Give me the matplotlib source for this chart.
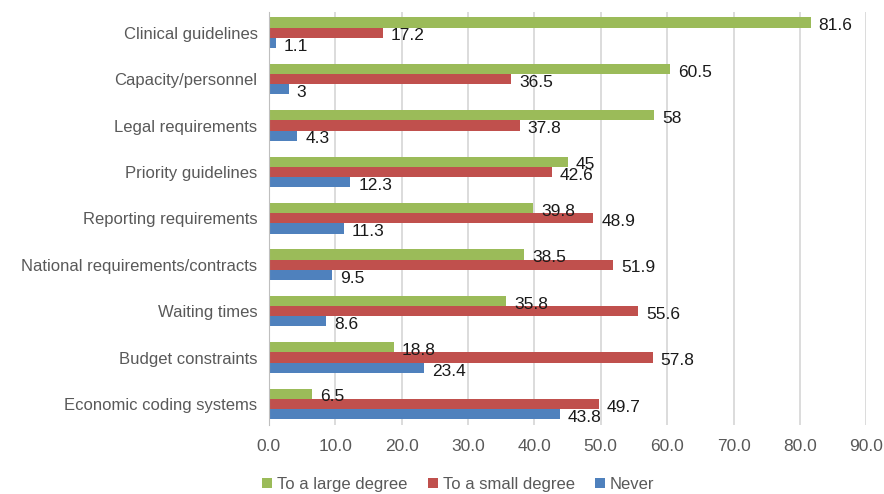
import matplotlib
matplotlib.use("Agg")
import matplotlib.pyplot as plt
import numpy as np

plt.rcParams["font.family"] = ["Liberation Sans", "DejaVu Sans"]

categories = [
    "Clinical guidelines",
    "Capacity/personnel",
    "Legal requirements",
    "Priority guidelines",
    "Reporting requirements",
    "National requirements/contracts",
    "Waiting times",
    "Budget constraints",
    "Economic coding systems",
]
large_degree = [81.6, 60.5, 58, 45, 39.8, 38.5, 35.8, 18.8, 6.5]
small_degree = [17.2, 36.5, 37.8, 42.6, 48.9, 51.9, 55.6, 57.8, 49.7]
never = [1.1, 3, 4.3, 12.3, 11.3, 9.5, 8.6, 23.4, 43.8]

series = [
    ("To a large degree", large_degree, "#9bbb59"),
    ("To a small degree", small_degree, "#c0504d"),
    ("Never", never, "#4f81bd"),
]

fig = plt.figure(figsize=(8.84, 4.94), dpi=100)
ax = fig.add_axes([0.304, 0.14, 0.676, 0.836])

y = np.arange(len(categories))
h = 0.22
offsets = [-h, 0, h]

for (name, vals, col), off in zip(series, offsets):
    ax.barh(y + off, vals, height=h, color=col, label=name, zorder=3)
    for yi, v in zip(y + off, vals):
        ax.text(v + 1.2, yi + 0.07, f"{v:g}", ha="left", va="center",
                fontsize=12.5, color="#1a1a1a", zorder=4)

ax.set_xlim(0, 90)
ax.set_ylim(8.45, -0.45)
ax.set_xticks(np.arange(0, 91, 10))
ax.set_xticklabels([f"{t:.1f}" for t in np.arange(0, 91, 10)])
ax.set_yticks(y)
ax.set_yticklabels(categories)
ax.tick_params(axis="both", length=0, labelsize=12, labelcolor="#595959")
ax.tick_params(axis="x", pad=10, labelsize=12.5)
ax.tick_params(axis="y", pad=8)

ax.grid(axis="x", color="#d9d9d9", linewidth=1.3, zorder=0)
for s in ["top", "right", "bottom"]:
    ax.spines[s].set_visible(False)
ax.spines["left"].set_color("#bfbfbf")
ax.spines["left"].set_zorder(5)

ax.legend(loc="upper center", bbox_to_anchor=(0.317, -0.09), ncol=3,
          frameon=False, fontsize=12, handlelength=0.6, handleheight=0.6,
          columnspacing=1.2, handletextpad=0.3, labelcolor="#595959")

fig.savefig("out.png", dpi=100)
